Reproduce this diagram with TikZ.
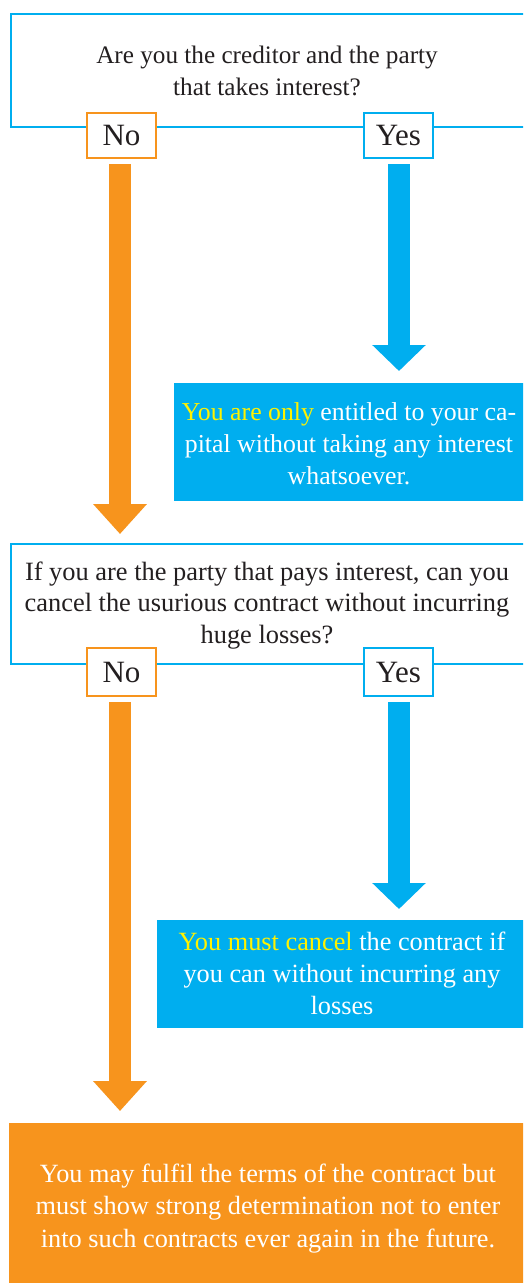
\documentclass[tikz,border=0pt]{standalone}
\usepackage{fontspec}
\setmainfont{Liberation Serif}
\usetikzlibrary{arrows.meta}
\definecolor{cblue}{HTML}{00AEEF}
\definecolor{corange}{HTML}{F7941D}
\definecolor{cyel}{HTML}{FFF200}
\definecolor{ctext}{HTML}{231F20}
\begin{document}
\begin{tikzpicture}[x=1pt,y=-1pt,
  frame/.style={draw=cblue,line width=2pt,inner sep=0pt},
  qtext/.style={text=ctext,align=center,inner sep=0pt},
  wtext/.style={text=white,align=center,inner sep=0pt},
  lbl/.style={fill=white,line width=2pt,inner sep=0pt,minimum width=69pt,text=ctext,font=\fontsize{31}{31}\selectfont},
  nobox/.style={lbl,draw=corange},
  yesbox/.style={lbl,draw=cblue},
  bfill/.style={fill=cblue,inner sep=0pt},
  ofill/.style={fill=corange,inner sep=0pt},
  oarrow/.style={draw=corange,line width=22pt,-{Triangle[length=30pt,width=52pt]}},
  barrow/.style={draw=cblue,line width=22pt,-{Triangle[length=26pt,width=52pt]}}
]
\clip (0,0) rectangle (523,1283);
\fill[white] (0,0) rectangle (523,1283);
% question 1
\node[frame,minimum width=520pt,minimum height=113.5pt,anchor=north west] (q1) at (10,12.5) {};
\node[qtext,font=\fontsize{25.2}{32}\selectfont,anchor=base] (q1t) at (267,95) {Are you the creditor and the party\\that takes interest?};
\node[nobox,minimum height=45pt] (no1) at (121.5,135.5) {No};
\node[yesbox,minimum height=45pt] (yes1) at (398.5,135.5) {Yes};
% answer 1
\node[bfill,minimum width=356pt,minimum height=118pt,anchor=north west] (a1) at (174,383) {};
\node[wtext,font=\fontsize{25.8}{32}\selectfont,anchor=base] (a1t) at (349,484) {{\color{cyel}You are only} entitled to your ca-\\pital without taking any interest\\whatsoever.};
% question 2
\node[frame,minimum width=520pt,minimum height=120pt,anchor=north west] (q2) at (10,543) {};
\node[qtext,font=\fontsize{26.4}{31.5}\selectfont,anchor=base] (q2t) at (267,643) {If you are the party that pays interest, can you\\cancel the usurious contract without incurring\\huge losses?};
\node[nobox,minimum height=48pt] (no2) at (121.5,672) {No};
\node[yesbox,minimum height=48pt] (yes2) at (398.5,672) {Yes};
% answer 2
\node[bfill,minimum width=373pt,minimum height=108pt,anchor=north west] (a2) at (157,920) {};
\node[wtext,font=\fontsize{26.3}{32}\selectfont,anchor=base] (a2t) at (342,1014) {{\color{cyel}You must cancel} the contract if\\you can without incurring any\\losses};
% final
\node[ofill,minimum width=522pt,minimum height=170pt,anchor=north west] (f) at (9,1123) {};
\node[wtext,font=\fontsize{26.3}{32.5}\selectfont,anchor=base] (ft) at (268,1247) {You may fulfil the terms of the contract but\\must show strong determination not to enter\\into such contracts ever again in the future.};
% arrows
\draw[oarrow] ([xshift=-1.5pt,yshift=-5pt]no1.south) -- ([xshift=-1.5pt,yshift=9pt]no1.south |- q2.north);
\draw[barrow] ([xshift=0.5pt,yshift=-5pt]yes1.south) -- ([xshift=0.5pt,yshift=12pt]yes1.south |- a1.north);
\draw[oarrow] ([xshift=-1.5pt,yshift=-5pt]no2.south) -- ([xshift=-1.5pt,yshift=12pt]no2.south |- f.north);
\draw[barrow] ([xshift=0.5pt,yshift=-5pt]yes2.south) -- ([xshift=0.5pt,yshift=11pt]yes2.south |- a2.north);
\end{tikzpicture}
\end{document}
